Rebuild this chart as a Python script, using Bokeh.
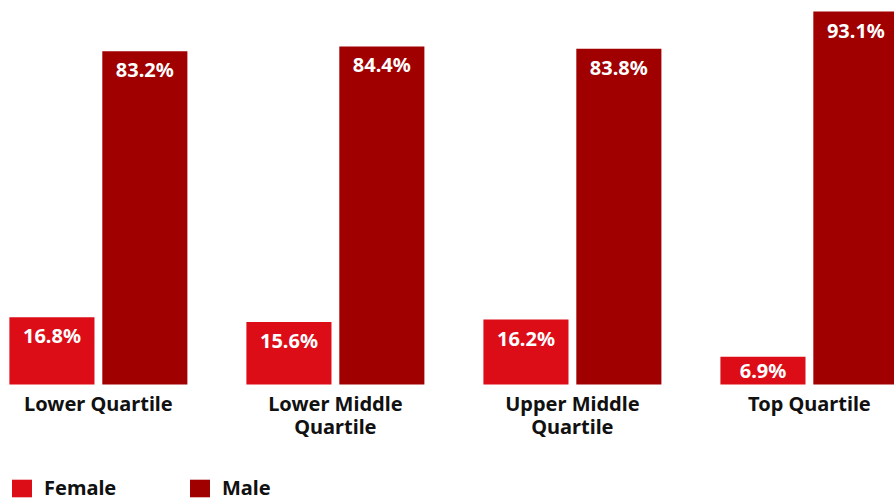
from bokeh.plotting import figure
from bokeh.models import ColumnDataSource, FactorRange, Range1d, Legend, LegendItem
from bokeh.transform import dodge
from bokeh.core.properties import value
from bokeh.embed import file_html
from bokeh.resources import INLINE

categories = ["Lower Quartile", "Lower Middle Quartile", "Upper Middle Quartile", "Top Quartile"]
category_labels = ["Lower Quartile", "Lower Middle\nQuartile", "Upper Middle\nQuartile", "Top Quartile"]
female = [16.8, 15.6, 16.2, 6.9]
male = [83.2, 84.4, 83.8, 93.1]

FEMALE_COLOR = "#DD0D18"
MALE_COLOR = "#A00000"
TEXT_COLOR = "#111111"
FONT = "Noto Sans"


def label_offsets(vals):
    # short bars get their label nudged up so it stays inside the bar
    return [5 if v >= 10 else 0 for v in vals]


src = ColumnDataSource(dict(
    cat=categories,
    label=category_labels,
    female=female,
    male=male,
    zero=[0] * len(categories),
    female_txt=[f"{v:.1f}%" for v in female],
    male_txt=[f"{v:.1f}%" for v in male],
    female_off=label_offsets(female),
    male_off=label_offsets(male),
))

x_range = FactorRange(factors=categories, range_padding=-0.114, range_padding_units="absolute")
p = figure(x_range=x_range, y_range=Range1d(-29.21, 95.86), width=894, height=501,
           output_backend="svg", toolbar_location=None,
           min_border_left=0, min_border_right=0, min_border_top=0, min_border_bottom=0)

shift = 0.027
off = 0.196
bw = 0.359
r_f = p.vbar(x=dodge("cat", shift - off, range=p.x_range), top="female", width=bw, source=src,
             fill_color=FEMALE_COLOR, line_color=None)
r_m = p.vbar(x=dodge("cat", shift + off, range=p.x_range), top="male", width=bw, source=src,
             fill_color=MALE_COLOR, line_color=None)

for key, d in (("female", shift - off), ("male", shift + off)):
    p.text(x=dodge("cat", d, range=p.x_range), y=key, text=key + "_txt", source=src,
           text_align="center", text_baseline="top", y_offset=key + "_off",
           text_color="white", text_font=value(FONT), text_font_style="bold",
           text_font_size="20px")

# category labels under each group
p.text(x=dodge("cat", shift, range=p.x_range), y="zero", text="label", source=src,
       text_align="center", text_baseline="top", y_offset=6, text_line_height=0.82,
       text_color=TEXT_COLOR, text_font=value(FONT), text_font_style="bold",
       text_font_size="20px")

p.xaxis.visible = False
p.yaxis.visible = False
p.xgrid.grid_line_color = None
p.ygrid.grid_line_color = None
p.outline_line_color = None

legend = Legend(items=[LegendItem(label="Female", renderers=[r_f]),
                       LegendItem(label="Male", renderers=[r_m])],
                orientation="horizontal", location=(9, 0),
                glyph_width=25, glyph_height=22, label_standoff=10, label_width=143,
                spacing=0, padding=0, margin=0, border_line_color=None,
                background_fill_alpha=0,
                label_text_font=FONT, label_text_font_style="bold",
                label_text_font_size="20px", label_text_color=TEXT_COLOR)
p.add_layout(legend, "center")

open("out.html", "w").write(file_html(p, INLINE))
